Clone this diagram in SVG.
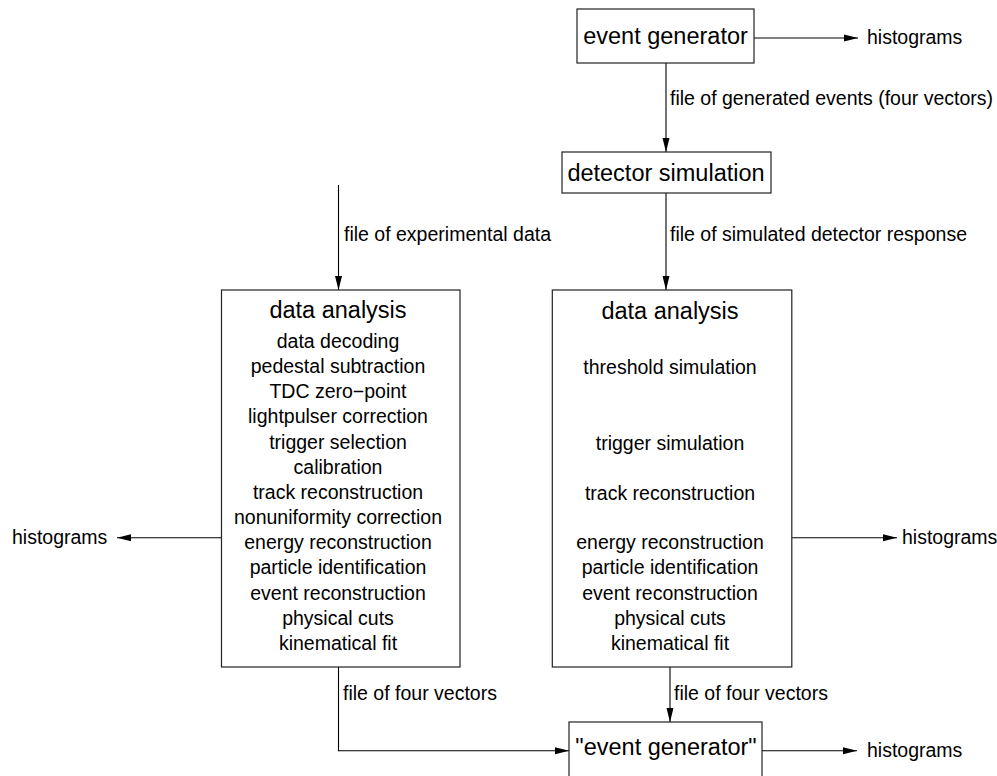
<svg xmlns="http://www.w3.org/2000/svg" width="997" height="776" viewBox="0 0 997 776">
<style>
text{font-family:"Liberation Sans",Arial,Helvetica,sans-serif;fill:#000}
.t{font-size:23.5px;text-anchor:middle}
.s{font-size:19.5px}
.c{text-anchor:middle}
.box{fill:#fff;stroke:#222;stroke-width:1.2}
.ln{fill:none;stroke:#000;stroke-width:1.1}
</style>
<defs>
<marker id="ah" viewBox="0 0 14 8" refX="14" refY="4" markerWidth="14" markerHeight="8" markerUnits="userSpaceOnUse" orient="auto">
<path d="M0,0.5 L14,4 L0,7.5 Z" fill="#000"/>
</marker>
</defs>
<g id="connectors">
<line class="ln" x1="754" y1="38" x2="858" y2="38" marker-end="url(#ah)"/>
<line class="ln" x1="666" y1="63" x2="666" y2="152" marker-end="url(#ah)"/>
<line class="ln" x1="666" y1="193" x2="666" y2="290" marker-end="url(#ah)"/>
<line class="ln" x1="338.5" y1="185" x2="338.5" y2="290" marker-end="url(#ah)"/>
<line class="ln" x1="222" y1="537.7" x2="117" y2="537.7" marker-end="url(#ah)"/>
<line class="ln" x1="792" y1="537.7" x2="897" y2="537.7" marker-end="url(#ah)"/>
<polyline class="ln" points="338.5,667 338.5,750.7 569,750.7" marker-end="url(#ah)"/>
<line class="ln" x1="670" y1="667" x2="670" y2="722" marker-end="url(#ah)"/>
<line class="ln" x1="762" y1="750.7" x2="857" y2="750.7" marker-end="url(#ah)"/>
<text class="s" x="670" y="105">file of generated events (four vectors)</text>
<text class="s" x="670" y="241">file of simulated detector response</text>
<text class="s" x="344" y="241">file of experimental data</text>
<text class="s" x="867" y="44">histograms</text>
<text class="s" x="12" y="544">histograms</text>
<text class="s" x="902" y="544">histograms</text>
<text class="s" x="343" y="700">file of four vectors</text>
<text class="s" x="674" y="700">file of four vectors</text>
<text class="s" x="867" y="757">histograms</text>
</g>
<g id="event-generator">
<rect class="box" x="577" y="9" width="177" height="54"/>
<text class="t" x="665.5" y="44">event generator</text>
</g>
<g id="detector-simulation">
<rect class="box" x="562" y="152" width="209" height="41"/>
<text class="t" x="666" y="181">detector simulation</text>
</g>
<g id="data-analysis-exp">
<rect class="box" x="221.5" y="290" width="238.5" height="377"/>
<text class="t" x="338" y="318">data analysis</text>
<g class="s c">
<text x="338" y="348">data decoding</text>
<text x="338" y="373">pedestal subtraction</text>
<text x="338" y="398">TDC zero−point</text>
<text x="338" y="423">lightpulser correction</text>
<text x="338" y="448.5">trigger selection</text>
<text x="338" y="474">calibration</text>
<text x="338" y="499">track reconstruction</text>
<text x="338" y="524">nonuniformity correction</text>
<text x="338" y="549">energy reconstruction</text>
<text x="338" y="574">particle identification</text>
<text x="338" y="600">event reconstruction</text>
<text x="338" y="625">physical cuts</text>
<text x="338" y="650">kinematical fit</text>
</g>
</g>
<g id="data-analysis-sim">
<rect class="box" x="552.3" y="290" width="239.5" height="377"/>
<text class="t" x="670" y="319">data analysis</text>
<g class="s c">
<text x="670" y="374">threshold simulation</text>
<text x="670" y="450">trigger simulation</text>
<text x="670" y="500">track reconstruction</text>
<text x="670" y="549">energy reconstruction</text>
<text x="670" y="574">particle identification</text>
<text x="670" y="600">event reconstruction</text>
<text x="670" y="625">physical cuts</text>
<text x="670" y="650">kinematical fit</text>
</g>
</g>
<g id="event-generator-2">
<rect class="box" x="569" y="722" width="193" height="70"/>
<text class="t" x="666" y="755">"event generator"</text>
</g>
</svg>
